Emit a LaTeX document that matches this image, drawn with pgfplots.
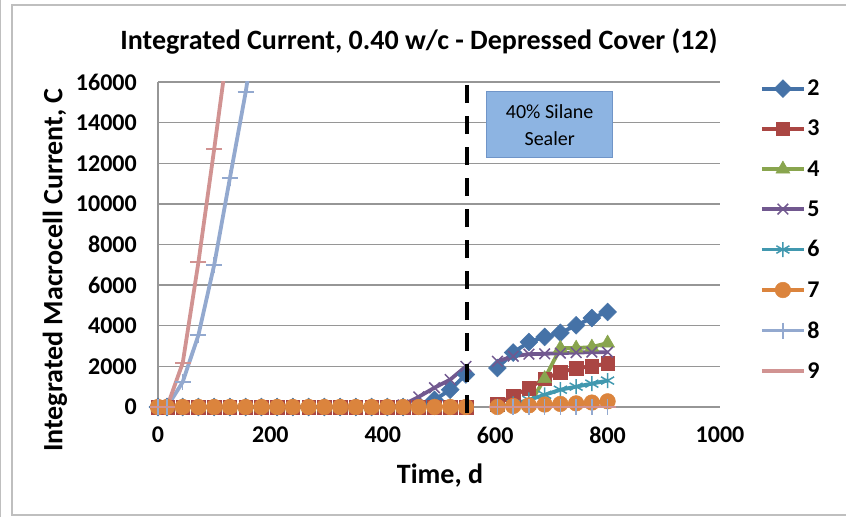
\documentclass[border=0pt]{standalone}
\usepackage{pgfplots}
\pgfplotsset{compat=1.18}
\usepackage{pgfplotstable}
\usepackage{fontspec}
\setmainfont{Carlito}
\usetikzlibrary{plotmarks}

\definecolor{c2}{HTML}{4572A7}
\definecolor{c3}{HTML}{AA4643}
\definecolor{c4}{HTML}{89A54E}
\definecolor{c5}{HTML}{71588F}
\definecolor{c6}{HTML}{4198AF}
\definecolor{c7}{HTML}{DB843D}
\definecolor{c8}{HTML}{93A9CF}
\definecolor{c9}{HTML}{D19392}
\definecolor{gridgray}{HTML}{969696}
\definecolor{framegray}{HTML}{BFBFBF}
\definecolor{boxfill}{HTML}{8DB4E2}
\definecolor{boxdraw}{HTML}{7095C8}

\pgfplotstableread{
t s2 s3 s4 s5 s6 s7 s8 s9
0 0 0 0 0 0 0 0 0
16 0 0 0 0 0 0 0 0
44 0 0 0 0 0 0 1230 2170
72 0 0 0 0 0 0 3550 7140
100 0 0 0 0 0 0 7000 12700
128 0 0 0 0 0 0 11280 18500
156 0 0 0 0 0 0 15500 24000
184 0 0 0 0 0 0 20500 29000
212 0 0 0 0 0 0 25000 34000
240 0 0 0 0 0 0 29000 38000
268 0 0 0 0 0 0 33000 42000
296 0 0 0 0 0 0 36000 46000
324 0 0 0 0 0 0 39000 50000
352 0 0 0 0 0 0 42000 53000
380 0 0 0 0 0 0 45000 56000
408 0 0 0 0 0 0 48000 59000
436 0 0 0 100 0 0 50000 62000
464 50 0 0 500 0 0 52000 64000
492 350 0 0 950 0 0 54000 66000
520 850 0 0 1350 0 0 56000 68000
548 1600 0 0 2000 0 0 58000 70000
576 nan nan nan nan nan nan nan nan
604 1920 150 0 2250 0 0 0 0
632 2680 550 50 2500 150 50 0 0
660 3200 930 80 2600 350 80 0 0
688 3450 1400 1400 2620 600 120 0 0
716 3650 1700 2900 2650 850 150 0 0
744 4020 1920 2900 2680 1000 180 0 0
772 4380 2000 2950 2700 1150 220 0 0
800 4680 2150 3150 2700 1300 280 0 0
}\datatable

\begin{document}
\begin{tikzpicture}
\path[use as bounding box] (0pt,0pt) rectangle (846pt,517pt);
\draw[framegray, line width=1.5pt] (850pt,512pt) -- (12pt,512pt) -- (12pt,2pt) -- (850pt,2pt);
\draw[framegray, line width=1.2pt] (0.8pt,0pt) -- (0.8pt,517pt);

\node[font=\fontsize{28}{28}\selectfont\bfseries] at (419pt,476pt) {Integrated Current, 0.40 w/c - Depressed Cover (12)};
\node[font=\fontsize{28}{28}\selectfont\bfseries, rotate=90] at (55pt,247pt) {Integrated Macrocell Current, C};
\node[font=\fontsize{28}{28}\selectfont\bfseries] at (440pt,41pt) {Time, d};

\begin{axis}[
  at={(158pt,110pt)}, anchor=south west,
  scale only axis, width=562pt, height=325pt,
  xmin=0, xmax=1000, ymin=0, ymax=16000,
  xtick={0,200,...,1000}, ytick={0,2000,...,16000},
  scaled y ticks=false, scaled x ticks=false,
  axis lines*=left,
  axis line style={draw=gridgray, line width=1.3pt, -},
  ymajorgrids, grid style={draw=gridgray, line width=1.3pt},
  major tick length=0pt,
  tick label style={font=\fontsize{24}{24}\selectfont\bfseries},
  /pgf/number format/assume math mode=true,
  /pgf/number format/1000 sep={},
  xticklabel style={inner sep=0pt, yshift=-20pt},
  yticklabel style={inner sep=0pt, xshift=-21pt},
  unbounded coords=jump,
  every axis plot/.append style={line width=3.8pt},
  legend style={at={(1,1)}, anchor=north west, xshift=40pt, yshift=4pt,
    draw=none, fill=none, inner sep=0pt, outer sep=0pt,
    nodes={inner xsep=1.5pt},
    font=\fontsize{24}{24}\selectfont\bfseries, row sep=19pt},
  legend cell align=left,
  legend image code/.code={\draw[mark repeat=2,mark phase=2] plot coordinates {(0pt,0pt) (21pt,0pt) (42pt,0pt)};},
]
\addplot[c2, mark=square*, mark size=6.3pt, mark options={solid, rotate=45, line width=0.5pt, fill=c2}] table[x=t, y=s2] {\datatable};
\addplot[c3, mark=square*, mark size=6.8pt, mark options={solid, line width=0.5pt, fill=c3}] table[x=t, y=s3] {\datatable};
\addplot[c4, mark=triangle*, mark size=8pt, mark options={solid, line width=0.5pt, fill=c4}] table[x=t, y=s4] {\datatable};
\addplot[c5, mark=x, mark size=7.5pt, mark options={solid, line width=1.5pt}] table[x=t, y=s5] {\datatable};
\addplot[c6, mark=asterisk, mark size=7.5pt, mark options={solid, line width=1.5pt}] table[x=t, y=s6] {\datatable};
\addplot[c7, mark=*, mark size=7.8pt, mark options={solid, line width=0.5pt, fill=c7}] table[x=t, y=s7] {\datatable};
\addplot[c8, mark=+, mark size=8pt, mark options={solid, line width=1.5pt}] table[x=t, y=s8] {\datatable};
\addplot[c9, mark=-, mark size=8pt, mark options={solid, line width=2.5pt}] table[x=t, y=s9] {\datatable};
\legend{2,3,4,5,6,7,8,9}
\node[fill=boxfill, draw=boxdraw, line width=0.8pt, minimum width=126pt, minimum height=66pt, inner sep=0pt, align=center, font=\fontsize{20}{27}\selectfont] at (axis cs:697,13890) {40\% Silane\\Sealer};
\coordinate (d0) at (axis cs:550,-300);
\coordinate (d1) at (axis cs:550,16000);
\end{axis}
\draw[black, line width=3.5pt, dash pattern=on 18pt off 13pt] (d0) -- (d1);
\end{tikzpicture}
\end{document}
